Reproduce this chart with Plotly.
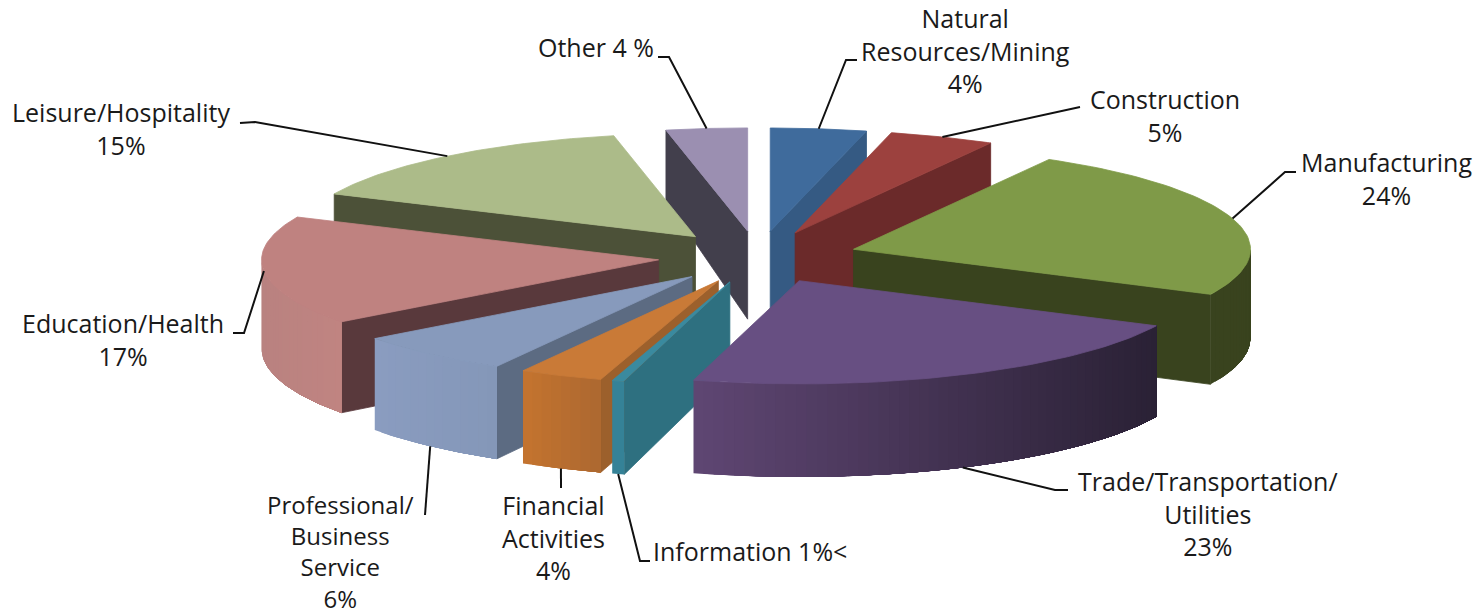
import numpy as np
import plotly.graph_objects as go

# ---------- data ----------
categories = ["Natural<br>Resources/Mining", "Construction", "Manufacturing",
              "Trade/Transportation/<br>Utilities", "Information", "Financial<br>Activities",
              "Professional/<br>Business<br>Service", "Education/Health",
              "Leisure/Hospitality", "Other"]
printed = ["4%", "5%", "24%", "23%", "1%<", "4%", "6%", "17%", "15%", "4 %"]
# wedge sizes as they are drawn in the picture (share of the full pie)
shares = [3.9, 4.3, 24.0, 22.1, 0.5, 3.4, 6.55, 17.07, 14.9, 3.3]

# ---------- style ----------
top_col = ["#3f6b9c", "#9c413e", "#7f9a48", "#674f82", "#3a8a9f", "#c97a37", "#879abc", "#bf8280", "#acbb89", "#9b8fb1"]
face_col = ["#355a83", "#6b2a2a", "#39431e", "#2a2135", "#2e7080", "#9c602c", "#5c6b82", "#59393c", "#4c5138", "#423f4c"]
wall_from = ["#3f6b9c", "#9c413e", "#39431e", "#5f4673", "#358297", "#c4742f", "#8a9cc0", "#b98280", "#acbb89", "#9b8fb1"]
wall_to = ["#3f6b9c", "#9c413e", "#39431e", "#2a2135", "#358297", "#ad6830", "#8497b8", "#c08481", "#acbb89", "#9b8fb1"]
draw_order = [9, 0, 8, 1, 7, 2, 6, 5, 4, 3]

# projection of the tilted pie onto the page
CX, CY, R, TILT, PULL = 758.0, 257.0, 397.0, 0.26, 100.0
FONT = dict(family="Open Sans", size=25, color="#1a1a1a")

# label placement: (centre x, centre y, elbow, elbow end, font size)
label_pos = [
    (965, 50, (846, 60), (857, 60), 25),
    (1165, 115, None, (1080, 107), 25),
    (1386, 178, (1285, 172), (1296, 172), 25),
    (1208, 513, (1055, 490), (1068, 490), 25),
    (750, 551, (640, 561), (650, 561), 25),
    (553, 537, None, (561, 488), 25),
    (340, 551.5, None, (425, 515), 24),
    (123, 339, (244, 333), (233, 333), 25),
    (121, 128, (255, 122), (240, 123), 25),
    (596, 47, (669, 57), (658, 57), 25),
]


def depth(y):
    return np.interp(y, [130, 230, 295, 380], [70, 88, 90, 93])


def blend(a, b, t):
    ca = [int(a[i:i + 2], 16) for i in (1, 3, 5)]
    cb = [int(b[i:i + 2], 16) for i in (1, 3, 5)]
    return "#%02x%02x%02x" % tuple(round(p + (q - p) * t) for p, q in zip(ca, cb))


fig = go.Figure()


def poly(xs, ys, color, width=0.8):
    fig.add_trace(go.Scatter(x=list(xs), y=list(ys), mode="lines", fill="toself", fillcolor=color,
                             line=dict(color=color, width=width), hoverinfo="skip", showlegend=False))


deg = np.array(shares) / sum(shares) * 360.0
edges = np.concatenate([[0.0], np.cumsum(deg)])
mids = (edges[:-1] + edges[1:]) / 2
tips = [(CX + PULL * np.sin(np.radians(m)), CY - TILT * PULL * np.cos(np.radians(m))) for m in mids]


def rim(i, a):
    t = np.radians(a)
    return tips[i][0] + R * np.sin(t), tips[i][1] - R * TILT * np.cos(t)


for i in draw_order:
    a, b = edges[i], edges[i + 1]
    tx, ty = tips[i]
    # the cut face that looks towards the viewer
    cut = b if b < 180 else (a if a > 180 else None)
    if cut is not None:
        ox, oy = rim(i, cut)
        poly([tx, ox, ox, tx, tx], [ty, oy, oy + depth(oy), ty + depth(ty), ty], face_col[i])
    # outer wall, front part only: shaded strips painted over each other so no seams show
    lo, hi = max(a, 90.0), min(b, 270.0)
    if hi > lo:
        ax0, ax1 = rim(i, hi)[0], rim(i, lo)[0]
        n = max(1, int((hi - lo) / 1.5))
        steps = np.linspace(hi, lo, n + 1)  # left to right on the page
        for k in range(n):
            sub = np.linspace(steps[k], lo, 50)
            pts = [rim(i, s) for s in sub]
            xs = [p[0] for p in pts]
            ys = [p[1] for p in pts]
            mid_x = (rim(i, steps[k])[0] + rim(i, steps[k + 1])[0]) / 2
            frac = (mid_x - ax0) / (ax1 - ax0 if ax1 != ax0 else 1)
            poly(xs + xs[::-1] + xs[:1],
                 ys + [y + depth(y) for y in ys[::-1]] + ys[:1],
                 blend(wall_from[i], wall_to[i], float(frac)), width=0)
    # top face
    arc = [rim(i, s) for s in np.linspace(a, b, 60)]
    poly([tx] + [p[0] for p in arc] + [tx], [ty] + [p[1] for p in arc] + [ty], top_col[i])

# leader lines and labels
for i, (lx, ly, elbow, end, size) in enumerate(label_pos):
    sx, sy = rim(i, mids[i])
    if 150 < mids[i] < 240:
        sy = sy + depth(sy)
    px = [sx] + ([elbow[0]] if elbow else []) + [end[0]]
    py = [sy] + ([elbow[1]] if elbow else []) + [end[1]]
    fig.add_trace(go.Scatter(x=px, y=py, mode="lines", line=dict(color="#111111", width=2),
                             hoverinfo="skip", showlegend=False))
    inline = categories[i] in ("Information", "Other")
    text = categories[i] + " " + printed[i] if inline else categories[i] + "<br>" + printed[i]
    fig.add_annotation(x=lx, y=ly, text=text, showarrow=False, xanchor="center", yanchor="middle",
                       align="center", font=dict(FONT, size=size))

fig.update_xaxes(range=[0, 1477], visible=False, fixedrange=True)
fig.update_yaxes(range=[614, 0], visible=False, fixedrange=True)
fig.update_layout(width=1477, height=614, margin=dict(l=0, r=0, t=0, b=0),
                  paper_bgcolor="white", plot_bgcolor="white", showlegend=False)
fig.write_html("out.html", config=dict(displayModeBar=False),
               post_script="document.body.style.margin='0';document.body.style.overflow='hidden';")
